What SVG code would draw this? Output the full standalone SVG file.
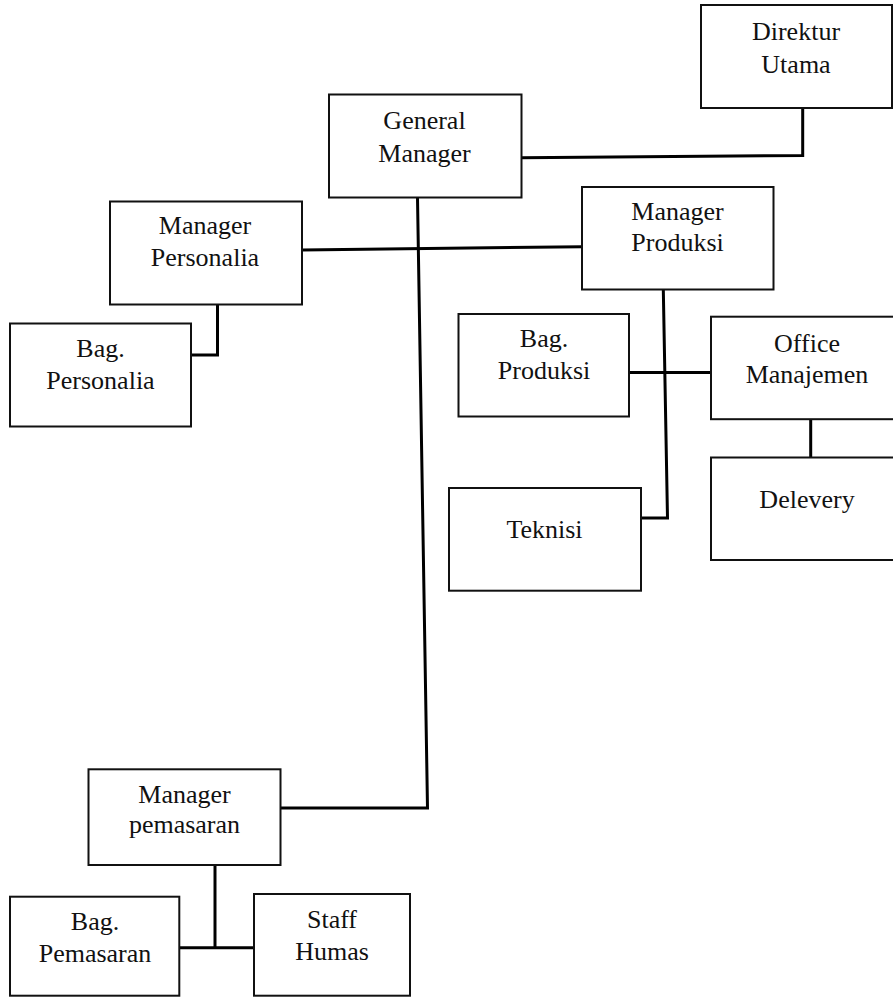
<svg xmlns="http://www.w3.org/2000/svg" width="893" height="997" viewBox="0 0 893 997">
<style>
.box{fill:#fff;stroke:#111;stroke-width:2}
.lbl{font-family:"Liberation Serif","Times New Roman",serif;font-size:26px;fill:#111;text-anchor:middle}
.conn{fill:none;stroke:#000;stroke-width:3;stroke-linejoin:miter}
</style>
<rect width="893" height="997" fill="#fff"/>
<g id="connectors">
<path class="conn" d="M521,157.7 L802.7,155.5 L802.7,108"/>
<path class="conn" d="M417.5,197.7 L427.5,808 L280.7,808"/>
<path class="conn" d="M302,250 L582,246.7"/>
<path class="conn" d="M217.5,304.3 L217.5,355 L190.7,355"/>
<path class="conn" d="M663.3,289.3 L667.5,518 L641,518"/>
<path class="conn" d="M629,372.5 L711,372.5"/>
<path class="conn" d="M810.7,419 L810.7,457.3"/>
<path class="conn" d="M215,865 L215,947.7"/>
<path class="conn" d="M179.3,947.7 L254,947.7"/>
</g>
<g id="direktur-utama">
<rect class="box" x="701" y="5" width="191" height="103"/>
<text class="lbl" x="796" y="39.5">Direktur</text>
<text class="lbl" x="796" y="72.5">Utama</text>
</g>
<g id="general-manager">
<rect class="box" x="329" y="94.5" width="192.5" height="103"/>
<text class="lbl" x="424.5" y="129.3">General</text>
<text class="lbl" x="424.5" y="161.7">Manager</text>
</g>
<g id="manager-personalia">
<rect class="box" x="110" y="201.5" width="192" height="103"/>
<text class="lbl" x="205" y="234.3">Manager</text>
<text class="lbl" x="205" y="265.7">Personalia</text>
</g>
<g id="bag-personalia">
<rect class="box" x="10" y="323.5" width="181" height="103"/>
<text class="lbl" x="100.5" y="356.7">Bag.</text>
<text class="lbl" x="100.5" y="389">Personalia</text>
</g>
<g id="manager-produksi">
<rect class="box" x="582" y="187" width="191.5" height="102.5"/>
<text class="lbl" x="677.5" y="220">Manager</text>
<text class="lbl" x="677.5" y="251">Produksi</text>
</g>
<g id="bag-produksi">
<rect class="box" x="458.5" y="314" width="170.5" height="102.5"/>
<text class="lbl" x="544" y="346.7">Bag.</text>
<text class="lbl" x="544" y="379">Produksi</text>
</g>
<g id="office-manajemen">
<rect class="box" x="711" y="316.7" width="200" height="102.5"/>
<text class="lbl" x="807" y="351.7">Office</text>
<text class="lbl" x="807" y="383.3">Manajemen</text>
</g>
<g id="delevery">
<rect class="box" x="711" y="457.5" width="200" height="102.5"/>
<text class="lbl" x="807" y="508.3">Delevery</text>
</g>
<g id="teknisi">
<rect class="box" x="449" y="488" width="192" height="102.7"/>
<text class="lbl" x="544.5" y="538">Teknisi</text>
</g>
<g id="manager-pemasaran">
<rect class="box" x="88.5" y="769.3" width="192" height="95.7"/>
<text class="lbl" x="184.5" y="803.3">Manager</text>
<text class="lbl" x="184.5" y="833.3">pemasaran</text>
</g>
<g id="bag-pemasaran">
<rect class="box" x="10" y="896.7" width="169.3" height="99"/>
<text class="lbl" x="95" y="930">Bag.</text>
<text class="lbl" x="95" y="961.7">Pemasaran</text>
</g>
<g id="staff-humas">
<rect class="box" x="254" y="894" width="156" height="101.7"/>
<text class="lbl" x="332" y="927.7">Staff</text>
<text class="lbl" x="332" y="960">Humas</text>
</g>
</svg>
